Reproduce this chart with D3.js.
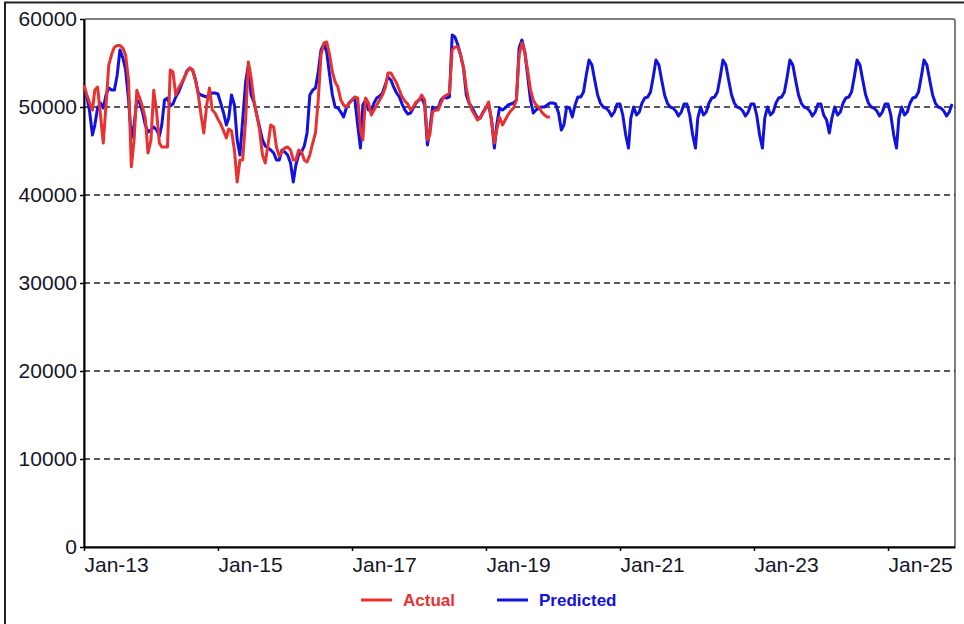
<!DOCTYPE html>
<html>
<head>
<meta charset="utf-8">
<script src="https://cdn.jsdelivr.net/npm/d3@7"></script>
<style>
  body { margin: 0; background: #fff; }
  text { font-family: "Liberation Sans", Arial, sans-serif; }
</style>
</head>
<body>
<script>
'use strict';

// half-monthly periods, first one is 1 Jan 2013
const firstPeriod = new Date(2013, 0, 1)

const actual = [
    52500, 51400, 50450, 49660, 51930, 52270, 49090, 45900, 50230, 54770, 56020, 56800,
    57000, 57000, 56700, 55900, 53000, 43200, 46250, 51900, 51000, 50000, 48750, 44770,
    46250, 51900, 49430, 45900, 45450, 45450, 45450, 54200, 53980, 51360, 52160, 52730,
    53300, 53980, 54430, 54200, 53070, 51360, 49090, 47050, 50230, 52160, 49660, 49320,
    48640, 48070, 47280, 46480, 47500, 47280, 45110, 41480, 43980, 43980, 48520, 55110,
    53300, 50800, 49090, 47390, 44550, 43640, 45680, 47950, 47730, 45450, 44430, 44890,
    45340, 45450, 45110, 43980, 43980, 45110, 44890, 43980, 43750, 44550, 45910, 47050,
    50800, 55910, 57270, 57390, 55910, 53980, 52840, 52270, 50800, 50230, 50000, 50450,
    50800, 51140, 51020, 47400, 46250, 51020, 50450, 49090, 49660, 50230, 50800, 51360,
    52160, 53860, 53860, 53300, 52730, 51930, 51140, 50680, 50340, 49660, 50000, 50570,
    50800, 51360, 50800, 46250, 46820, 49430, 49660, 49660, 50450, 51140, 51360, 51590,
    56480, 56820, 56820, 55910, 54430, 52160, 50570, 49660, 49090, 48520, 48750, 49320,
    49890, 50570, 48300, 45910, 47390, 48860, 47950, 48520, 49090, 49550, 49890, 50800,
    55910, 57270, 56250, 54200, 51930, 50800, 50230, 50000, 49430, 49090, 48860, 48860
]

const predicted = [
    51360, 51250, 49430, 46820, 47950, 49890, 50450, 49890, 51360, 52160, 51930, 51930,
    53640, 56480, 55570, 54200, 50800, 46480, 47950, 50800, 50450, 49430, 47950, 47160,
    47390, 47730, 47390, 46700, 47950, 50800, 51020, 50110, 50340, 51140, 51700, 52500,
    53300, 54090, 54430, 54200, 53070, 51590, 51360, 51250, 51140, 51360, 51590, 51590,
    51480, 50450, 49320, 47950, 48750, 51360, 50230, 46250, 44550, 48520, 52840, 54770,
    51360, 50570, 49090, 47730, 46250, 45570, 45340, 45110, 44770, 43980, 43980, 45110,
    44890, 44550, 43640, 41480, 43410, 44550, 44890, 45570, 47050, 51360, 51930, 52160,
    53980, 56480, 57160, 56250, 53640, 51360, 50000, 49890, 49430, 48860, 49890, 50450,
    50800, 51020, 47950, 45340, 50230, 50800, 49660, 49660, 50450, 51020, 51250, 51590,
    52500, 53410, 53070, 52270, 51590, 51140, 50340, 49660, 49200, 49320, 49890, 50450,
    50800, 51020, 50230, 45680, 47390, 50000, 49660, 49890, 50800, 51140, 51020, 51140,
    58180, 57950, 57050, 55910, 54430, 51360, 50450, 50000, 49320, 48750, 48750, 49430,
    49890, 50230, 48520, 45340, 47950, 49890, 49660, 49890, 50230, 50340, 50450, 50800,
    56710, 57620, 56250, 53640, 50800, 49320, 49660, 49890, 50000, 50000, 50230, 50450,
    50450, 50340, 49320, 47390, 47950, 50000, 49890, 48860, 50230, 51140, 51140, 51700,
    53640,
    // forecast
    55340, 54770, 53070, 51360, 50450, 50000, 49890, 49550, 48980, 49430, 50340, 50340,
    49090, 46820, 45340, 48750, 50000, 49090, 49430, 50450, 51020, 51140, 51700, 53410,
    55340, 54770, 53070, 51360, 50450, 50000, 49890, 49550, 48980, 49430, 50340, 50340,
    49090, 46820, 45340, 48750, 50000, 49090, 49430, 50450, 51020, 51140, 51700, 53410,
    55340, 54770, 53070, 51360, 50450, 50000, 49890, 49550, 48980, 49430, 50340, 50340,
    49090, 46820, 45340, 48750, 50000, 49090, 49430, 50450, 51020, 51140, 51700, 53410,
    55340, 54770, 53070, 51360, 50450, 50000, 49890, 49550, 48980, 49430, 50340, 50340,
    49090, 48520, 47050, 48750, 50000, 49090, 49430, 50450, 51020, 51140, 51700, 53410,
    55340, 54770, 53070, 51360, 50450, 50000, 49890, 49550, 48980, 49430, 50340, 50340,
    49090, 46820, 45340, 48750, 50000, 49090, 49430, 50450, 51020, 51140, 51700, 53410,
    55340, 54770, 53070, 51360, 50450, 50000, 49890, 49550, 48980, 49430, 50340
]

const yTicks = [0, 10000, 20000, 30000, 40000, 50000, 60000]
const tickYears = [2013, 2015, 2017, 2019, 2021, 2023, 2025]
const seriesNames = ['Actual', 'Predicted']
const seriesColors = ['#e83232', '#1212e0']

const largura = 964, altura = 624
const area = {left: 84, right: 955, top: 19, bottom: 547}

const svg = d3.select('body').append('svg')
    .attr('width', largura)
    .attr('height', altura)

// outer frame (runs off right and bottom edges)
svg.append('path')
    .attr('d', `M5,${altura} V2.5 H${largura}`)
    .attr('fill', 'none')
    .attr('stroke', '#222')
    .attr('stroke-width', 2)

const escalaX = d3.scaleTime()
    .domain([new Date(2013, 0, 1), new Date(2026, 0, 1)])
    .range([area.left, area.right])
const escalaY = d3.scaleLinear()
    .domain([0, 60000])
    .range([area.bottom, area.top])

function periodo(i) {
    let d = d3.timeMonth.offset(firstPeriod, Math.floor(i / 2))
    return i % 2 ? d3.timeDay.offset(d, 15) : d
}

// plot box
svg.append('rect')
    .attr('x', area.left).attr('y', area.top)
    .attr('width', area.right - area.left)
    .attr('height', area.bottom - area.top)
    .attr('rx', 2)
    .attr('fill', 'none')
    .attr('stroke', '#555')
    .attr('stroke-width', 1.5)

// dashed grid
svg.append('g').selectAll('line')
    .data(yTicks.filter(d => d > 0 && d < 60000))
    .enter().append('line')
    .attr('x1', area.left).attr('x2', area.right)
    .attr('y1', d => escalaY(d)).attr('y2', d => escalaY(d))
    .attr('stroke', '#222')
    .attr('stroke-width', 1.5)
    .attr('stroke-dasharray', '6,4')

const eixoY = d3.axisLeft(escalaY)
    .tickValues(yTicks)
    .tickSize(4)
    .tickSizeOuter(0)
    .tickFormat(d3.format('d'))
const gY = svg.append('g')
    .attr('transform', `translate(${area.left},0)`)
    .call(eixoY)

const eixoX = d3.axisBottom(escalaX)
    .tickValues(tickYears.map(a => new Date(a, 0, 1)))
    .tickSize(4)
    .tickSizeOuter(0)
    .tickPadding(6)
    .tickFormat(d3.timeFormat('%b-%y'))
const gX = svg.append('g')
    .attr('transform', `translate(0,${area.bottom})`)
    .call(eixoX)
gX.selectAll('text').attr('text-anchor', 'start')

for (let g of [gX, gY]) {
    g.select('.domain').attr('stroke', '#000').attr('stroke-width', 2)
    g.selectAll('.tick line').attr('stroke', '#000').attr('stroke-width', 1.5)
    g.selectAll('text')
        .attr('font-size', 21)
        .attr('fill', '#15152a')
        .style('font-family', '"Liberation Sans", Arial, sans-serif')
}

const linha = d3.line()
    .x((d, i) => escalaX(periodo(i)))
    .y(d => escalaY(d))

// predicted below, actual on top
svg.append('path')
    .datum(predicted)
    .attr('d', linha)
    .attr('fill', 'none')
    .attr('stroke', seriesColors[1])
    .attr('stroke-width', 3)
    .attr('stroke-linejoin', 'round')
svg.append('path')
    .datum(actual)
    .attr('d', linha)
    .attr('fill', 'none')
    .attr('stroke', seriesColors[0])
    .attr('stroke-width', 3)
    .attr('stroke-linejoin', 'round')

// legend
const legendaX = [361, 497]
const legenda = svg.append('g').selectAll('g')
    .data(seriesNames)
    .enter().append('g')
    .attr('transform', (d, i) => `translate(${legendaX[i]},600)`)
legenda.append('line')
    .attr('x1', 0).attr('x2', 31)
    .attr('stroke', (d, i) => seriesColors[i])
    .attr('stroke-width', 3)
legenda.append('text')
    .attr('x', 42).attr('y', 6)
    .attr('font-size', 17)
    .attr('font-weight', 'bold')
    .attr('fill', (d, i) => seriesColors[i])
    .text(d => d)
</script>
</body>
</html>
